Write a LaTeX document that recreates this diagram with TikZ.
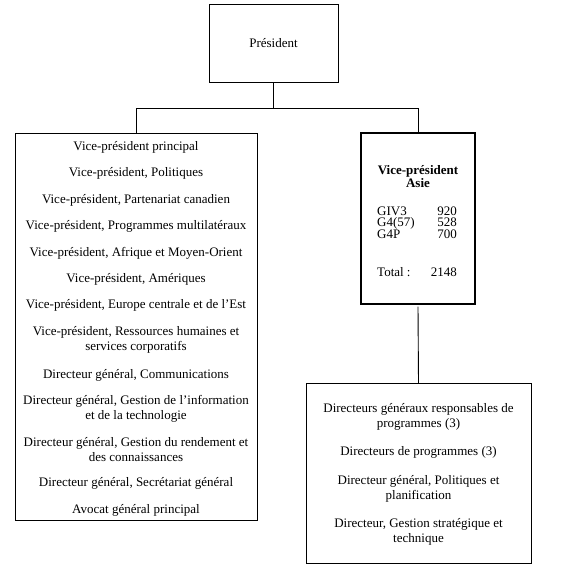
\documentclass[tikz,border=0pt]{standalone}
\usepackage{fontspec}
\setmainfont{Liberation Serif}
\begin{document}
\begin{tikzpicture}[x=1pt,y=-1pt,
  box/.style={draw,line width=0.9pt,inner sep=0pt},
  thickbox/.style={draw,line width=2.4pt,inner sep=0pt},
  conn/.style={line width=0.9pt},
  txt/.style={inner sep=0pt,anchor=base,font=\fontsize{13}{15}\selectfont},
  txtw/.style={inner sep=0pt,anchor=base west,font=\fontsize{13}{15}\selectfont},
  txte/.style={inner sep=0pt,anchor=base east,font=\fontsize{13}{15}\selectfont}]
\useasboundingbox (0,0) rectangle (562,567);
% boxes
\node[box,minimum width=129pt,minimum height=78pt] (pres) at (273.5,43) {};
\node[box,minimum width=242pt,minimum height=387pt] (left) at (136,326.5) {};
\node[thickbox,minimum width=114pt,minimum height=171pt] (asie) at (418,218.5) {};
\node[box,minimum width=225pt,minimum height=180pt] (bot) at (418.5,473.5) {};
\coordinate (hl) at (136,108.5);
\coordinate (hr) at (418,108.5);
\coordinate (hm) at (273.5,108.5);
% connectors
\draw[conn] (pres.south) -- (hm);
\draw[conn] (hl) -- (hr);
\draw[conn] (hl) -- (left.north);
\draw[conn] (hr) -- (asie.north);
\draw[conn] ([yshift=-1.5pt]asie.south) -- (bot.north);
% texts
\node[txt] (tpres) at (273.5,48) {Président};
\node[txt] (a1) at (136,150.5) {Vice-président principal};
\node[txt] (a2) at (136,176.5) {Vice-président, Politiques};
\node[txt] (a3) at (136,203) {Vice-président, Partenariat canadien};
\node[txt] (a4) at (136,229.5) {Vice-président, Programmes multilatéraux};
\node[txt] (a5) at (136,256) {Vice-président, Afrique et Moyen-Orient};
\node[txt] (a6) at (136,282) {Vice-président, Amériques};
\node[txt] (a7) at (136,308.5) {Vice-président, Europe centrale et de l’Est};
\node[txt] (a8) at (136,335.5) {Vice-président, Ressources humaines et};
\node[txt] (a8b) at (136,350.5) {services corporatifs};
\node[txt] (a9) at (136,378) {Directeur général, Communications};
\node[txt] (a10) at (136,404.5) {Directeur général, Gestion de l’information};
\node[txt] (a10b) at (136,419.5) {et de la technologie};
\node[txt] (a11) at (136,446) {Directeur général, Gestion du rendement et};
\node[txt] (a11b) at (136,461) {des connaissances};
\node[txt] (a12) at (136,486) {Directeur général, Secrétariat général};
\node[txt] (a13) at (136,513) {Avocat général principal};
% Asie
\node[txt,font=\fontsize{13}{15}\selectfont\bfseries] (v1) at (418,174) {Vice-président};
\node[txt,font=\fontsize{13}{15}\selectfont\bfseries] (v2) at (418,187.5) {Asie};
\node[txtw] (g1) at (377,215) {GIV3};
\node[txte] (n1) at (457,215) {920};
\node[txtw] (g2) at (377,226.5) {G4(57)};
\node[txte] (n2) at (457,226.5) {528};
\node[txtw] (g3) at (377,238) {G4P};
\node[txte] (n3) at (457,238) {700};
\node[txtw] (g4) at (377,276) {Total :};
\node[txte] (n4) at (457,276) {2148};
% bottom
\node[txt] (b1) at (418.5,412.5) {Directeurs généraux responsables de};
\node[txt] (b1b) at (418.5,427.5) {programmes (3)};
\node[txt] (b2) at (418.5,455.5) {Directeurs de programmes (3)};
\node[txt] (b3) at (418.5,484.5) {Directeur général, Politiques et};
\node[txt] (b3b) at (418.5,499.5) {planification};
\node[txt] (b4) at (418.5,527.5) {Directeur, Gestion stratégique et};
\node[txt] (b4b) at (418.5,542.5) {technique};
\end{tikzpicture}
\end{document}
